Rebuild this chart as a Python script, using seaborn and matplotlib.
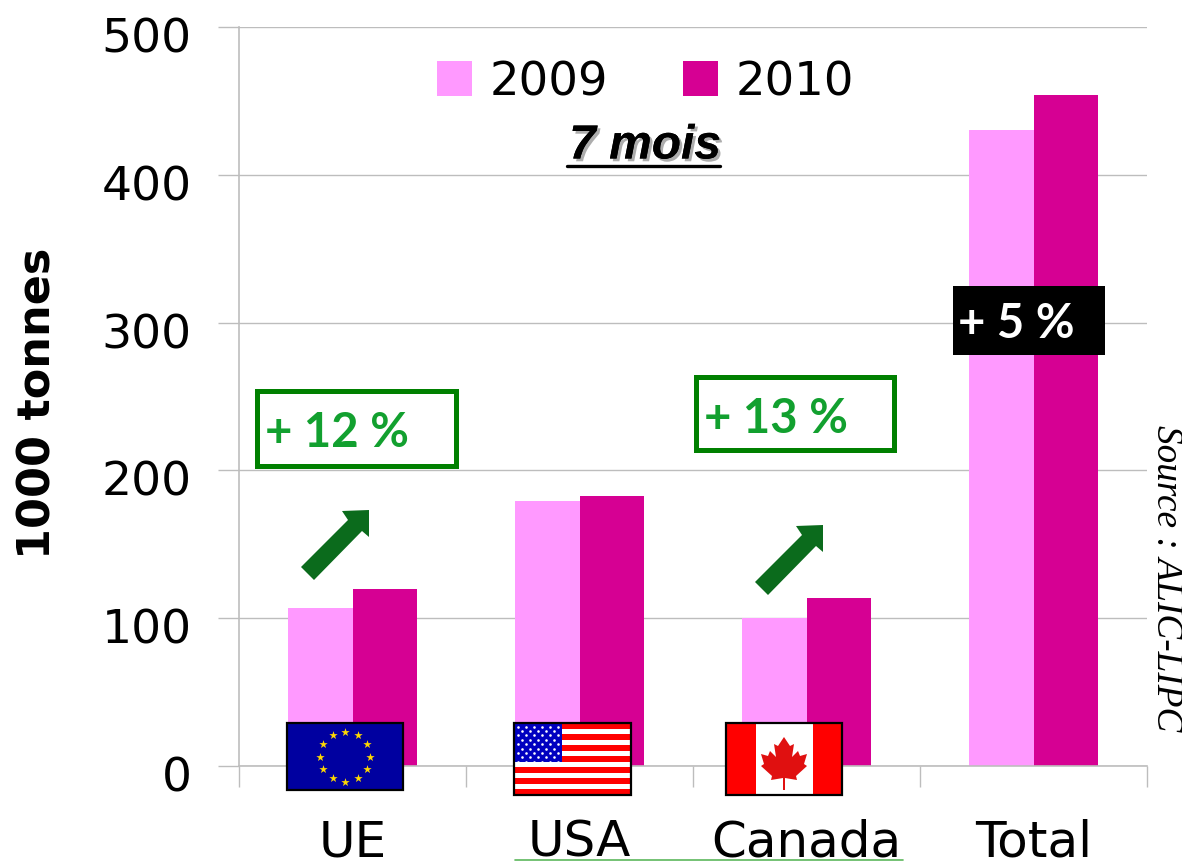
import numpy as np
import pandas as pd
import seaborn as sns
import matplotlib
matplotlib.use("Agg")
import matplotlib.pyplot as plt
import matplotlib.patheffects as pe
from matplotlib.patches import Rectangle, Polygon
from matplotlib.transforms import ScaledTranslation

categories = ["UE", "USA", "Canada", "Total"]
values_2009 = [107, 179, 100, 430]
values_2010 = [120, 183, 114, 454]
years = ["2009", "2010"]
y_ticks = [0, 100, 200, 300, 400, 500]
colors = ["#FF99FF", "#D60093"]
grid_col = "#BDBDBD"
W, H = 1182, 861


def build_dataframe():
    rows = []
    for i, cat in enumerate(categories):
        rows.append({"cat": cat, "year": years[0], "val": values_2009[i]})
        rows.append({"cat": cat, "year": years[1], "val": values_2010[i]})
    return pd.DataFrame(rows)


def flag_border(ov, x0, y0, x1, y1):
    ov.add_patch(Rectangle((x0, y0), x1 - x0, y1 - y0, fill=False, ec="black", lw=1.6, zorder=6))


def flag_eu(ov, x0, y0, x1, y1):
    ov.add_patch(Rectangle((x0, y0), x1 - x0, y1 - y0, fc="#0000A0", ec="none", zorder=5))
    cx, cy = (x0 + x1) / 2, (y0 + y1) / 2
    ang = np.arange(12) * np.pi / 6
    ov.scatter(cx + 25 * np.cos(ang), cy + 25 * np.sin(ang), marker="*", s=40, c="#FFD800", lw=0, zorder=6)
    flag_border(ov, x0, y0, x1, y1)


def flag_usa(ov, x0, y0, x1, y1):
    h = (y1 - y0) / 13
    ov.add_patch(Rectangle((x0, y0), x1 - x0, y1 - y0, fc="white", ec="none", zorder=5))
    for i in range(0, 13, 2):
        ov.add_patch(Rectangle((x0, y0 + i * h), x1 - x0, h, fc="#FF0000", ec="none", zorder=5))
    ov.add_patch(Rectangle((x0, y0), 48, 7 * h, fc="#0000C0", ec="none", zorder=5))
    xs, ys = [], []
    for r in range(9):
        n = 6 if r % 2 == 0 else 5
        for c in range(n):
            xs.append(x0 + 4 + c * 8 + (0 if r % 2 == 0 else 4))
            ys.append(y0 + 3.5 + r * 4.4)
    ov.scatter(xs, ys, s=3.5, c="white", lw=0, zorder=6)
    flag_border(ov, x0, y0, x1, y1)


def flag_canada(ov, x0, y0, x1, y1):
    ov.add_patch(Rectangle((x0, y0), x1 - x0, y1 - y0, fc="white", ec="none", zorder=5))
    ov.add_patch(Rectangle((x0, y0), 30, y1 - y0, fc="#FF0000", ec="none", zorder=5))
    ov.add_patch(Rectangle((x1 - 29, y0), 29, y1 - y0, fc="#FF0000", ec="none", zorder=5))
    cx, top = (x0 + x1) / 2, y0 + 14
    half = [(0, 0), (6, 9), (10, 7), (8, 20), (14, 14), (16, 19), (23, 17), (20, 27), (23, 29),
            (12, 39), (13, 43), (1, 41), (1, 53)]
    pts = [(cx + a, top + b) for a, b in half] + [(cx - a, top + b) for a, b in half[::-1]]
    ov.add_patch(Polygon(pts, fc="#E01010", ec="none", zorder=6))
    flag_border(ov, x0, y0, x1, y1)


def green_box(ov, x0, y0, x1, y1, label, tx, ty):
    ov.add_patch(Rectangle((x0, y0), x1 - x0, y1 - y0, fill=False, ec="#008000", lw=3.6, zorder=5))
    ov.text(tx, ty, label, color="#12A02F", family="Lato", weight="bold", fontsize=34, va="center", ha="left", zorder=6)


def arrow(ov, dx, dy):
    pts = [(301, 567), (348, 520), (342, 511), (369, 510), (369, 537), (362, 531), (314, 580)]
    ov.add_patch(Polygon([(a + dx, b + dy) for a, b in pts], fc="#0B6B1C", ec="none", zorder=6))


def plot(df):
    sns.set_theme(style="white")
    plt.rcParams["font.family"] = ["DejaVu Sans"]
    plt.rcParams["text.color"] = "black"
    fig = plt.figure(figsize=(W / 100, H / 100), dpi=100, facecolor="white")
    ax = fig.add_axes([239 / W, 1 - 766 / H, (1147 - 239) / W, (766 - 27) / H])
    sns.barplot(data=df, x="cat", y="val", hue="year", palette=colors, width=0.57, gap=0,
                saturation=1, ax=ax, order=categories, hue_order=years, errorbar=None,
                linewidth=0, edgecolor="none")
    ax.set_ylim(0, 500)
    ax.set_yticks(y_ticks)
    ax.set_xlim(-0.5, 3.5)
    ax.set_xlabel("")
    ax.set_ylabel("")
    ax.set_axisbelow(True)
    ax.grid(axis="y", color=grid_col, lw=1)
    for s in ["top", "right"]:
        ax.spines[s].set_visible(False)
    for s in ["left", "bottom"]:
        ax.spines[s].set_color(grid_col)
        ax.spines[s].set_linewidth(1.2)
    ax.tick_params(axis="y", length=15, width=1, color=grid_col, labelsize=34, pad=19, left=True, labelcolor="black")
    # the slide has its value labels sitting a little under their gridlines
    shift = ScaledTranslation(0, -8 / 100, fig.dpi_scale_trans)
    for lab in ax.get_yticklabels():
        lab.set_transform(lab.get_transform() + shift)
    ax.set_xticks(np.arange(-0.5, 4, 1), minor=True)
    ax.tick_params(axis="x", which="minor", length=15, width=1, color=grid_col, bottom=True)
    ax.tick_params(axis="x", which="major", length=0, labelsize=36, pad=38, labelcolor="black")

    ax.legend(loc="upper left", bbox_to_anchor=(437 / W, 1 - 60 / H), bbox_transform=fig.transFigure,
              ncols=2, frameon=False, fontsize=33.5, handlelength=0.75, handleheight=0.77,
              handletextpad=0.38, columnspacing=1.62, borderpad=0, borderaxespad=0)

    fig.text(38 / W, 1 - 403 / H, "1000 tonnes", rotation=90, fontsize=32, weight="bold",
             ha="center", va="center")

    # overlay in pixel coordinates for the slide decorations
    ov = fig.add_axes([0, 0, 1, 1], zorder=5)
    ov.set_xlim(0, W)
    ov.set_ylim(H, 0)
    ov.axis("off")
    ov.patch.set_alpha(0)

    ov.text(645, 146, "7 mois", family="Liberation Sans", style="italic", weight="bold", fontsize=34.5,
            ha="center", va="center", zorder=6,
            path_effects=[pe.withSimplePatchShadow(offset=(2, -2), shadow_rgbFace="#999999", alpha=0.8), pe.Normal()])
    ov.plot([567, 720], [166, 166], color="black", lw=2.4, zorder=6)

    green_box(ov, 257, 391, 456, 466, "+ 12 %", 265, 433)
    green_box(ov, 696, 377, 894, 450, "+ 13 %", 704, 419)
    ov.add_patch(Rectangle((953, 286), 152, 69, fc="black", ec="none", zorder=5))
    ov.text(958, 324, "+ 5 %", color="white", family="Lato", weight="bold", fontsize=34, va="center", ha="left", zorder=6)

    arrow(ov, 0, 0)
    arrow(ov, 454, 15)

    flag_eu(ov, 287, 723, 403, 790)
    flag_usa(ov, 514, 723, 631, 795)
    flag_canada(ov, 726, 723, 842, 795)

    ov.text(1166, 578, "Source : ALIC-LIPC", rotation=-90, family="Liberation Serif", style="italic",
            fontsize=26.8, ha="center", va="center", zorder=6)
    ov.plot([515, 903], [860, 860], color="#5CB85C", lw=1.2, zorder=6)

    fig.savefig("out.png", dpi=100)


if __name__ == "__main__":
    plot(build_dataframe())
